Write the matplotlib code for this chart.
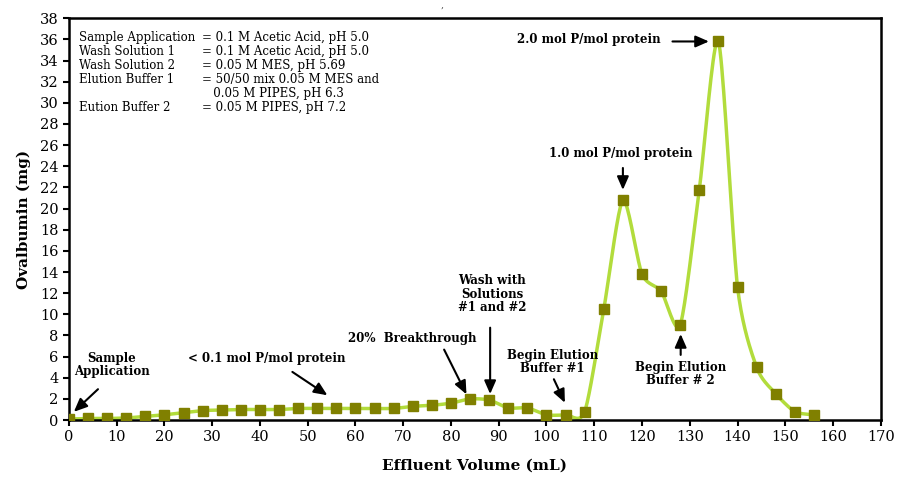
import matplotlib
matplotlib.use("Agg")
import matplotlib.pyplot as plt
import numpy as np

# effluent volume (mL) and ovalbumin (mg)
volume = [0, 4, 8, 12, 16, 20, 24, 28, 32, 36, 40, 44, 48, 52, 56, 60, 64, 68,
          72, 76, 80, 84, 88, 92, 96, 100, 104, 108, 112, 116, 120, 124, 128,
          132, 136, 140, 144, 148, 152, 156]
ovalbumin = [0.1, 0.15, 0.15, 0.2, 0.35, 0.5, 0.7, 0.9, 0.95, 1.0, 1.0, 1.0,
             1.1, 1.1, 1.1, 1.1, 1.1, 1.1, 1.3, 1.4, 1.6, 2.0, 1.9, 1.15, 1.15,
             0.5, 0.5, 0.8, 10.5, 20.8, 13.8, 12.2, 9.0, 21.8, 35.8, 12.6, 5.0,
             2.5, 0.8, 0.5]

buffers = ["Sample Application", "Wash Solution 1", "Wash Solution 2",
           "Elution Buffer 1", "", "Eution Buffer 2"]
buffer_desc = ["= 0.1 M Acetic Acid, pH 5.0", "= 0.1 M Acetic Acid, pH 5.0",
               "= 0.05 M MES, pH 5.69", "= 50/50 mix 0.05 M MES and",
               "   0.05 M PIPES, pH 6.3", "= 0.05 M PIPES, pH 7.2"]


def smooth(x, y, n=20):
    # bezier smoothing like a spreadsheet "smoothed line"
    x = np.asarray(x, float); y = np.asarray(y, float)
    px = np.concatenate([[x[0]], x, [x[-1]]])
    py = np.concatenate([[y[0]], y, [y[-1]]])
    xs, ys = [], []
    t = np.linspace(0, 1, n, endpoint=False)
    for i in range(1, len(px) - 2):
        p0, p1, p2, p3 = (np.array([px[j], py[j]]) for j in range(i - 1, i + 3))
        c1 = p1 + (p2 - p0) / 8
        c2 = p2 - (p3 - p1) / 8
        b = ((1 - t) ** 3)[:, None] * p1 + (3 * (1 - t) ** 2 * t)[:, None] * c1 \
            + (3 * (1 - t) * t ** 2)[:, None] * c2 + (t ** 3)[:, None] * p2
        xs.extend(b[:, 0]); ys.extend(b[:, 1])
    xs.append(x[-1]); ys.append(y[-1])
    return xs, ys


plt.rcParams['font.family'] = ['DejaVu Serif']
fig = plt.figure(figsize=(8.98, 4.79), dpi=100)
ax = fig.add_axes([0.0768, 0.123, 0.904, 0.839])

sx, sy = smooth(volume, ovalbumin)
ax.plot(sx, sy, color='#b2dc3c', lw=2.5, zorder=2)
ax.plot(volume, ovalbumin, ls='none', marker='s', ms=6.5, color='#808000', zorder=3)

ax.set_xlim(0, 170)
ax.set_ylim(0, 38)
ax.set_xticks(np.arange(0, 171, 10))
ax.set_yticks(np.arange(0, 39, 2))
ax.tick_params(direction='out', length=4, width=1.5, labelsize=10.5)
for s in ax.spines.values():
    s.set_linewidth(1.8)
ax.set_xlabel('Effluent Volume (mL)', fontsize=11, fontweight='bold', labelpad=10)
ax.set_ylabel('Ovalbumin (mg)', fontsize=11, fontweight='bold', labelpad=6)

# buffer legend text
for i, (b, d) in enumerate(zip(buffers, buffer_desc)):
    yy = 0.951 - i * 0.0348
    ax.text(0.012, yy, b, transform=ax.transAxes, fontsize=8.5, va='center')
    ax.text(0.164, yy, d, transform=ax.transAxes, fontsize=8.5, va='center')

arrow = dict(arrowstyle='-|>,head_width=0.35,head_length=0.8', color='black', lw=1.5)
kw = dict(fontsize=8.5, fontweight='bold', ha='center', va='center')
notes = [
    ("Sample\nApplication", (9, 5.2), (0.6, 0.6), (6.5, 3.1)),
    ("< 0.1 mol P/mol protein", (41.5, 5.8), (54.6, 2.2), (46.3, 4.7)),
    ("20%  Breakthrough", (71.8, 7.75), (83.5, 2.2), (78.3, 6.9)),
    ("Wash with\nSolutions\n#1 and #2", (88.6, 11.9), (88.2, 2.2), (88.2, 9.0)),
    ("Begin Elution\nBuffer #1", (101.3, 5.5), (104.1, 1.4), (101.3, 4.1)),
    ("Begin Elution\nBuffer # 2", (128.1, 4.35), (128.1, 8.4), (128.1, 5.9)),
    ("1.0 mol P/mol protein", (115.6, 25.2), (116.0, 21.5), (116.0, 24.1)),
    ("2.0 mol P/mol protein", (108.9, 36.0), (134.6, 35.8), (125.8, 35.8)),
]
for txt, tpos, head, tail in notes:
    ax.text(tpos[0], tpos[1], txt, linespacing=1.05, **kw)
    ax.annotate('', xy=head, xytext=tail, arrowprops=arrow)

fig.text(442 / 898, 0.999, ',', fontsize=7, ha='center', va='top', color='#555555')

fig.savefig('out.png', dpi=100)
